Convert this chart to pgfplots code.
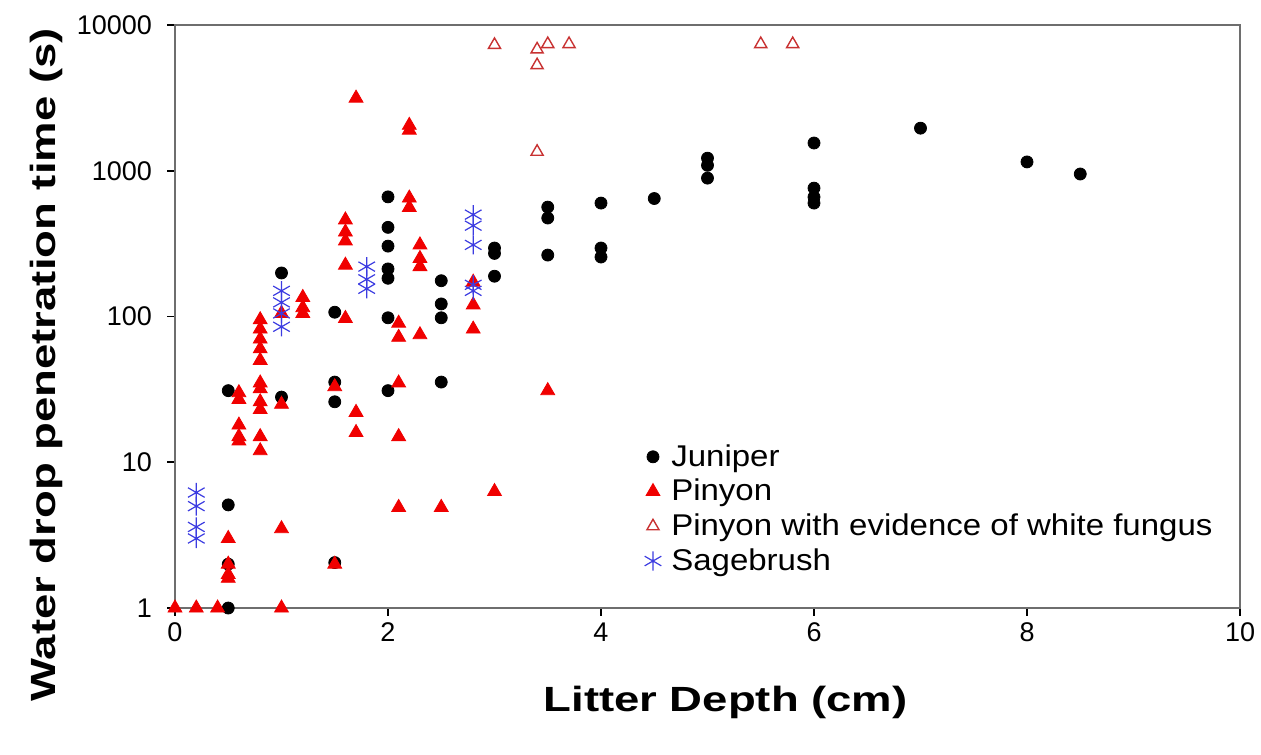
\documentclass[border=0pt]{standalone}
\usepackage{fontspec}
\setmainfont{Liberation Sans}
\newfontfamily\labelfont{Liberation Sans}[FakeStretch=1.3]
\newfontfamily\legendfont{Liberation Sans}[FakeStretch=1.1]
\usepackage{pgfplots}
\pgfplotsset{compat=1.18}
\definecolor{pinred}{RGB}{240,0,0}
\definecolor{fungred}{RGB}{200,50,50}
\definecolor{sageblue}{RGB}{60,60,225}
\definecolor{axgray}{RGB}{110,110,110}
\begin{document}
\begin{tikzpicture}
\begin{semilogyaxis}[
  scale only axis, width=532.5pt, height=291.5pt,
  xmin=0, xmax=10, ymin=1, ymax=10000,
  xtick={0,2,4,6,8,10}, xticklabels={0,2,4,6,8,10},
  ytick={1,10,100,1000,10000}, yticklabels={1,10,100,1000,10000},
  yminorticks=false,
  tick align=outside, major tick length=4pt,
  xtick pos=bottom, ytick pos=left,
  tick style={black, line width=0.8pt},
  axis line style={axgray, line width=1pt},
  tick label style={font=\fontsize{13.5}{16}\selectfont},
  yticklabel style={xshift=-4pt},
  xlabel={Litter Depth (cm)},
  ylabel={Water drop penetration time (s)},
  label style={font=\labelfont\bfseries\fontsize{17.5}{20}\selectfont},
  xlabel style={at={(ticklabel cs:0.517)}, yshift=-15pt},
  ylabel style={at={(ticklabel cs:0.417)}, yshift=0pt},
  clip=false,
  legend style={draw=none, fill=none, at={(rel axis cs:0.435,0.295)}, anchor=north west,
    font=\legendfont\fontsize{15}{17.5}\selectfont, legend cell align=left, row sep=1pt, column sep=3pt},
]
\coordinate (bl) at (rel axis cs:0,0);
\coordinate (tr) at (rel axis cs:1,1);
\addplot[only marks, mark=*, mark size=3pt, mark options={fill=black, draw=black}] coordinates {
(0.5,31) (0.5,5.1) (0.5,2) (0.5,1)
(1,199) (1,28)
(1.5,107) (1.5,35.5) (1.5,26) (1.5,2.05)
(2,662) (2,409) (2,304) (2,212) (2,183) (2,98) (2,31)
(2.5,176) (2.5,122) (2.5,98) (2.5,35.5)
(3,295) (3,271) (3,189)
(3.5,563) (3.5,474) (3.5,264)
(4,600) (4,295) (4,256)
(4.5,645)
(5,1220) (5,1090) (5,890)
(6,1550) (6,760) (6,660) (6,600)
(7,1960) (8,1150) (8.5,950)
};
\addlegendentry{Juniper}
\addplot[only marks, mark=triangle*, mark size=4pt, mark options={fill=pinred, draw=pinred}] coordinates {
(0,1) (0.2,1) (0.4,1) (1,1)
(0.5,3) (0.5,2) (0.5,1.7) (0.5,1.6)
(0.6,30) (0.6,27) (0.6,18) (0.6,15) (0.6,14)
(0.8,95) (0.8,82) (0.8,70) (0.8,60) (0.8,50) (0.8,35) (0.8,32) (0.8,26) (0.8,23) (0.8,15) (0.8,12)
(1,105) (1,25) (1,3.5)
(1.2,135) (1.2,115) (1.2,105)
(1.5,33) (1.5,2)
(1.6,460) (1.6,380) (1.6,330) (1.6,225) (1.6,97)
(1.7,3150) (1.7,22) (1.7,16)
(2.1,90) (2.1,72) (2.1,35) (2.1,15) (2.1,4.9)
(2.2,2050) (2.2,1900) (2.2,650) (2.2,560)
(2.3,310) (2.3,250) (2.3,220) (2.3,75)
(2.5,4.9)
(2.8,172) (2.8,120) (2.8,82)
(3,6.3)
(3.5,31)
};
\addlegendentry{Pinyon}
\addplot[only marks, mark=triangle, mark size=3.5pt, mark options={draw=fungred, line width=0.7pt}] coordinates {
(3,7300) (3.4,6800) (3.5,7400) (3.7,7400) (3.4,5300) (3.4,1350) (5.5,7400) (5.8,7400)
};
\addlegendentry{Pinyon with evidence of white fungus}
\addplot[only marks, mark=asterisk, mark size=4.8pt, mark options={draw=sageblue, line width=0.6pt}] coordinates {
(0.2,6.2) (0.2,5.0) (0.2,3.6) (0.2,3.0)
(1,150) (1,125) (1,105) (1,85)
(1.8,220) (1.8,180) (1.8,155)
(2.8,500) (2.8,420) (2.8,310) (2.8,165) (2.8,150)
};
\addlegendentry{Sagebrush}
\end{semilogyaxis}
\pgfresetboundingbox
\path ([xshift=-87.5pt,yshift=-73pt]bl) rectangle ([xshift=10.5pt,yshift=12.5pt]tr);
\end{tikzpicture}
\end{document}
